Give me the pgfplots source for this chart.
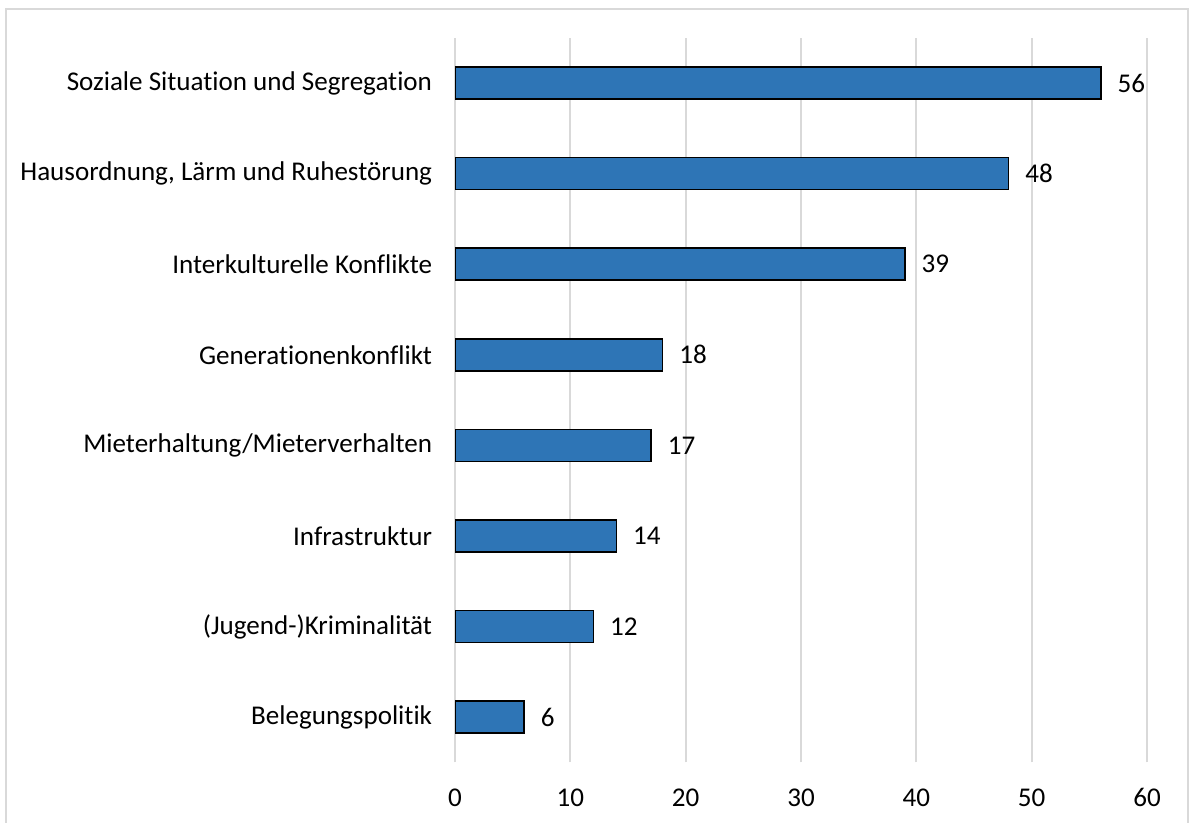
\documentclass[border=0pt]{standalone}
\usepackage{fontspec}
\setmainfont{Carlito}[Ligatures={NoCommon}]
\usepackage{pgfplots}
\pgfplotsset{compat=1.18}
\definecolor{barblue}{RGB}{46,117,182}
\definecolor{gridgray}{RGB}{217,217,217}
\begin{document}
\fontsize{20.3}{24}\selectfont
\begin{tikzpicture}
\useasboundingbox (0,0) rectangle (891.75pt,617.25pt);
\draw[gridgray, line width=1pt] (4.5pt,0) -- (4.5pt,610.5pt) -- (891pt,610.5pt) -- (891pt,0);
\begin{axis}[
  at={(341.25pt,45.5pt)}, anchor=south west,
  scale only axis, width=519pt, height=543.4pt,
  xbar, bar width=24pt,
  xmin=0, xmax=60, ymin=-0.5, ymax=7.5,
  xtick={0,10,...,60},
  ytick={0,...,7},
  yticklabels={Belegungspolitik,(Jugend-)Kriminalität,Infrastruktur,Mieterhaltung/Mieterverhalten,Generationenkonflikt,Interkulturelle Konflikte,{Hausordnung, Lärm und Ruhestörung},Soziale Situation und Segregation},
  axis line style={draw=none},
  major tick length=0pt,
  xmajorgrids, grid style={gridgray, line width=1.5pt},
  /pgf/number format/assume math mode=true,
  tick label style={font=\fontsize{20.3}{24}\selectfont},
  yticklabel style={inner sep=0pt, anchor=east, xshift=-17pt},
  xticklabel style={inner sep=0pt, anchor=base, yshift=-33.4pt},
  nodes near coords,
  nodes near coords style={anchor=west, inner sep=0pt, xshift=12pt, font=\fontsize{20.3}{24}\selectfont, /pgf/number format/assume math mode=true},
]
\addplot[fill=barblue, draw=black, line width=1.1pt] coordinates {
(6,0) (12,1) (14,2) (17,3) (18,4) (39,5) (48,6) (56,7)
};
\end{axis}
\end{tikzpicture}
\end{document}
